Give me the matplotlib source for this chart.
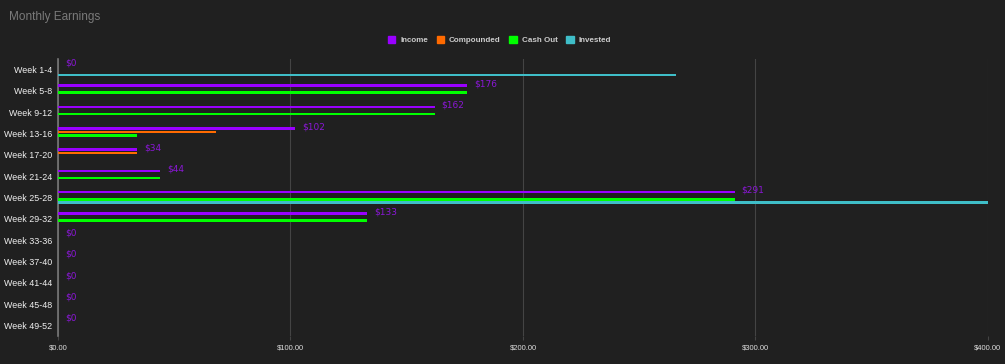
import numpy as np
import matplotlib
matplotlib.use('Agg')
import matplotlib.pyplot as plt
from matplotlib.patches import Patch

# ── data ─────────────────────────────────────────────────────────────────────
weeks = ['Week 1-4', 'Week 5-8', 'Week 9-12', 'Week 13-16', 'Week 17-20',
         'Week 21-24', 'Week 25-28', 'Week 29-32', 'Week 33-36', 'Week 37-40',
         'Week 41-44', 'Week 45-48', 'Week 49-52']
income      = [0, 176, 162, 102, 34, 44, 291, 133, 0, 0, 0, 0, 0]
compounded  = [0, 0, 0, 68, 34, 0, 0, 0, 0, 0, 0, 0, 0]
cash_out    = [0, 176, 162, 34, 0, 44, 291, 133, 0, 0, 0, 0, 0]
invested    = [266, 0, 0, 0, 0, 0, 400, 0, 0, 0, 0, 0, 0]
xticks      = [0, 100, 200, 300, 400]

# ── style ────────────────────────────────────────────────────────────────────
BG        = '#202020'
C_INCOME  = '#9900ff'
C_COMP    = '#ff6a00'
C_CASH    = '#00ff00'
C_INV     = '#3fbec8'
FONT      = 'Liberation Sans'

fig = plt.figure(figsize=(10.05, 3.64), dpi=100, facecolor=BG)
ax = fig.add_axes([0.0577, 0.077, 0.9253, 0.761], facecolor=BG)

y = np.arange(len(weeks))
slot = 0.165
h = 0.12
series = [(income, C_INCOME, 'Income'), (compounded, C_COMP, 'Compounded'),
          (cash_out, C_CASH, 'Cash Out'), (invested, C_INV, 'Invested')]
for k, (vals, col, lab) in enumerate(series):
    ax.barh(y + (k - 1.5) * slot, vals, height=h, color=col, zorder=3, label=lab)

# value labels for income
for yi, v in zip(y, income):
    ax.text(v + 3, yi - 1.5 * slot - 0.08, f'${v}', color='#8a17d6', fontsize=6.5,
            ha='left', va='center', family='DejaVu Sans', zorder=4)

ax.set_xlim(0, 400)
ax.set_ylim(len(weeks) - 0.5, -0.5)
ax.set_xticks(xticks)
ax.set_xticklabels([f'${t:.2f}' for t in xticks], color='#dddddd', fontsize=5.5,
                   family=FONT)
ax.set_yticks(y)
ax.set_yticklabels(weeks, color='#f0f0f0', fontsize=6.4, family=FONT)
ax.tick_params(axis='y', length=0, pad=4)
ax.tick_params(axis='x', length=3, color='#444444', pad=3)
ax.grid(True, axis='x', color='#444444', linewidth=0.8, zorder=0)
for s in ['top', 'right', 'bottom']:
    ax.spines[s].set_visible(False)
ax.spines['left'].set_color('#777777')
ax.spines['left'].set_linewidth(1.2)

fig.text(0.009, 0.953, 'Monthly Earnings', color='#7a7a7a', fontsize=8.5,
         family=FONT, va='center', ha='left')

handles = [Patch(facecolor=c, edgecolor=c, label=l) for _, c, l in series]
leg = fig.legend(handles=handles, loc='center', bbox_to_anchor=(0.497, 0.89),
                 ncol=4, frameon=False, handlelength=0.9,
                 handleheight=0.9, handletextpad=0.6, columnspacing=1.1,
                 prop={'family': FONT, 'weight': 'bold', 'size': 5.8})
for t in leg.get_texts():
    t.set_color('#cccccc')

fig.savefig('out.png', dpi=100, facecolor=BG)
